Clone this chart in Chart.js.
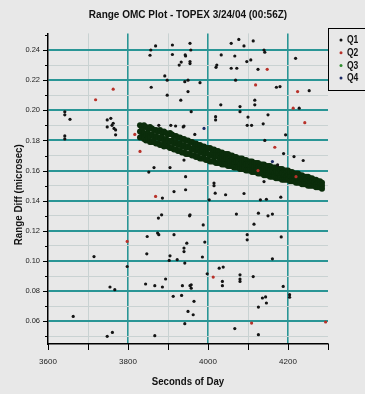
<!DOCTYPE html>
<html>
<head>
<meta charset="utf-8">
<script src="https://cdn.jsdelivr.net/npm/chart.js@4/dist/chart.umd.min.js"></script>
<style>
  html, body { margin: 0; padding: 0; background: #e8e8e8; }
  #wrap { width: 365px; height: 394px; }
</style>
</head>
<body>
<div id="wrap"><canvas id="omcChart" width="365" height="394"></canvas></div>
<script>
// --- Data (seconds of day, range diff in microsec) ---
const chartTitle = "Range OMC Plot - TOPEX 3/24/04 (00:56Z)";
const xTitle = "Seconds of Day";
const yTitle = "Range Diff (microsec)";
const xTickValues = [3600, 3700, 3800, 3900, 4000, 4100, 4200, 4300];
const yTickValues = [0.05, 0.06, 0.07, 0.08, 0.09, 0.10, 0.11, 0.12, 0.13, 0.14, 0.15,
                     0.16, 0.17, 0.18, 0.19, 0.20, 0.21, 0.22, 0.23, 0.24, 0.25];

// Q1 - scattered returns (black)
const q1Points = [
  [3642,0.199],[3642,0.197],[3655,0.194],[3642,0.183],[3642,0.181],
  [3748,0.1936],[3757,0.1947],[3748,0.189],[3763,0.1914],[3769,0.187],[3765,0.188],[3769,0.1837],[3760,0.190],
  [3852,0.159],[3865,0.162],[3905,0.162],
  [3857,0.240],[3869,0.2427],[3855,0.2365],[3911,0.2433],[3911,0.237],[3928,0.230],[3933,0.232],[3944,0.236],
  [3955,0.231],[3892,0.2228],[3898,0.220],[3858,0.2153],[3898,0.210],[3932,0.2067],[3942,0.219],[3950,0.220],
  [3950,0.2124],[3907,0.190],[3919,0.1896],[3940,0.1896],[3877,0.190],
  [3955,0.2444],[3943,0.2367],[3955,0.2323],[3980,0.2183],[3957,0.240],
  [4058,0.2444],[4077,0.247],[4090,0.2427],[4113,0.246],[4140,0.240],[4142,0.2385],[4033,0.2367],[4067,0.236],
  [4097,0.2323],[4107,0.2334],[4022,0.230],[4020,0.2285],[4058,0.2279],[4072,0.2279],[4125,0.2272],[4219,0.2345],
  [4069,0.220],[4171,0.2153],[4180,0.2157],[4253,0.213],[4117,0.2067],[4117,0.2036],[4032,0.2036],[4080,0.2025],
  [4080,0.1991],[4228,0.2014],[3958,0.1991],[4019,0.1958],[4019,0.1936],[4100,0.1955],[4150,0.197],[4138,0.191],
  [4098,0.190],[4109,0.190],[3938,0.189],[3967,0.184],[4142,0.180],[4194,0.1837],[4189,0.1713],
  [4174,0.1638],[4215,0.1693],[4238,0.1667],[3940,0.167],[3944,0.156],[4015,0.1517],[4140,0.1527],
  [3886,0.1418],[3915,0.1461],[3944,0.1473],[3876,0.1285],[3884,0.1307],[3955,0.1307],[3874,0.1186],[3877,0.1175],
  [3848,0.1163],[3915,0.1175],[3715,0.103],[3847,0.1048],[3905,0.1035],[3903,0.1004],[3923,0.1009],[3940,0.1086],
  [3940,0.1063],[3947,0.1119],[3942,0.0987],[3798,0.0964],[3894,0.0881],[3755,0.0828],[3767,0.0810],[3844,0.0848],
  [3867,0.0837],[3886,0.0828],[3936,0.0837],[3955,0.0837],[3913,0.0766],[3934,0.0772],[3663,0.0633],[3950,0.0666],
  [3942,0.0585],[3761,0.0527],[3748,0.0501],[3867,0.0505],
  [4015,0.150],[4018,0.145],[4003,0.1406],[4044,0.144],[4090,0.1448],[4131,0.1406],[4146,0.141],[4182,0.1424],
  [3954,0.130],[3988,0.124],[4071,0.1312],[4126,0.1318],[4150,0.130],[4161,0.1312],[4115,0.1245],[4098,0.1175],
  [4098,0.1141],[4183,0.116],[3992,0.1126],[3986,0.1027],[4161,0.1015],[4028,0.0953],[4038,0.096],[3998,0.0916],
  [4080,0.0909],[4080,0.0881],[4080,0.0865],[4113,0.0897],[4036,0.0865],[4036,0.0837],[3958,0.0843],[3958,0.082],
  [4188,0.0832],[4204,0.0777],[4204,0.076],[4136,0.0755],[4144,0.0762],[4146,0.0722],[4126,0.0695],[3965,0.0733],
  [3963,0.0644],[4067,0.0552],[4126,0.0512]
];

// Q2 - red
const q2Points = [
  [3719,0.207],[3763,0.214],[3817,0.184],[3830,0.1727],[4148,0.2272],[4119,0.2168],[4224,0.2124],[4213,0.2014],
  [4242,0.1918],[4167,0.1755],[3869,0.1429],[3798,0.113],[4013,0.0894],[4109,0.0589],[4294,0.0596],
  [4125,0.160],[4220,0.156]
];

// Q3 - the main pass band (x, upper, middle, lower)
const q3Band = [
  [3830,0.190,0.186,0.182],[3835,0.189,0.187,0.183],[3840,0.190,0.185,0.181],[3845,0.189,0.184,0.180],
  [3850,0.188,0.185,0.181],[3855,0.189,0.183,0.179],[3860,0.188,0.184,0.179],[3865,0.187,0.182,0.179],
  [3870,0.187,0.183,0.178],[3875,0.186,0.182,0.178],[3880,0.187,0.181,0.177],[3885,0.185,0.182,0.177],
  [3890,0.186,0.180,0.176],[3895,0.185,0.181,0.177],[3900,0.184,0.180,0.176],[3905,0.185,0.179,0.175],
  [3910,0.184,0.180,0.175],[3915,0.183,0.178,0.174],[3920,0.183,0.179,0.174],[3925,0.182,0.177,0.173],
  [3930,0.182,0.178,0.173],[3935,0.181,0.176,0.172],[3940,0.181,0.177,0.172],[3945,0.180,0.175,0.171],
  [3950,0.180,0.176,0.171],[3955,0.179,0.175,0.171],[3960,0.179,0.174,0.170],[3965,0.178,0.175,0.170],
  [3970,0.178,0.173,0.169],[3975,0.177,0.174,0.169],[3980,0.177,0.172,0.168],[3985,0.176,0.173,0.168],
  [3990,0.176,0.171,0.168],[3995,0.175,0.172,0.167],[4000,0.175,0.171,0.167],[4005,0.175,0.170,0.166],
  [4010,0.174,0.171,0.166],[4015,0.174,0.169,0.166],[4020,0.173,0.170,0.165],[4025,0.173,0.169,0.165],
  [4030,0.172,0.168,0.165],[4035,0.172,0.169,0.164],[4040,0.171,0.167,0.164],[4045,0.171,0.168,0.164],
  [4050,0.171,0.167,0.163],[4055,0.170,0.166,0.163],[4060,0.170,0.167,0.163],[4065,0.169,0.165,0.162],
  [4070,0.169,0.166,0.162],[4075,0.168,0.165,0.162],[4080,0.168,0.164,0.161],[4085,0.168,0.165,0.161],
  [4090,0.167,0.163,0.161],[4095,0.167,0.164,0.160],[4100,0.166,0.163,0.160],[4105,0.166,0.162,0.160],
  [4110,0.166,0.163,0.159],[4115,0.165,0.162,0.159],[4120,0.165,0.161,0.159],[4125,0.165,0.162,0.158],
  [4130,0.164,0.161,0.158],[4135,0.164,0.160,0.158],[4140,0.164,0.161,0.157],[4145,0.163,0.160,0.157],
  [4150,0.163,0.159,0.157],[4155,0.163,0.160,0.156],[4160,0.162,0.159,0.156],[4165,0.162,0.158,0.156],
  [4170,0.162,0.159,0.155],[4175,0.161,0.158,0.155],[4180,0.161,0.157,0.155],[4185,0.161,0.158,0.154],
  [4190,0.160,0.157,0.154],[4195,0.160,0.156,0.154],[4200,0.160,0.157,0.154],[4205,0.159,0.156,0.153],
  [4210,0.159,0.155,0.153],[4215,0.158,0.156,0.153],[4220,0.158,0.155,0.152],[4225,0.158,0.154,0.152],
  [4230,0.157,0.155,0.152],[4235,0.157,0.154,0.151],[4240,0.156,0.153,0.151],[4245,0.156,0.154,0.151],
  [4250,0.156,0.153,0.150],[4255,0.155,0.152,0.150],[4260,0.155,0.153,0.150],[4265,0.154,0.152,0.150],
  [4270,0.154,0.151,0.149],[4275,0.153,0.152,0.149],[4280,0.153,0.151,0.149],[4285,0.152,0.150,0.148]
];

// Q4 - dark blue
const q4Points = [[3990,0.188],[4161,0.166],[3975,0.170],[4140,0.160]];

// --- Helpers ---
const FONT = "'Liberation Sans', Arial, sans-serif";
const toXY = pts => pts.map(p => ({ x: p[0], y: p[1] }));
const bandXY = [];
q3Band.forEach(r => {
  bandXY.push({ x: r[0], y: r[1] }, { x: r[0], y: r[2] }, { x: r[0], y: r[3] });
});
const isEven = (v, step) => Math.round(v / step) % 2 === 0;

// condensed bold text (the original uses a narrow face)
function narrowText(c, text, x, y, size, squeeze, rot) {
  c.save();
  c.translate(x, y);
  if (rot) c.rotate(rot);
  c.scale(squeeze, 1);
  c.font = "bold " + size + "px " + FONT;
  c.fillStyle = "#111";
  c.textAlign = "center";
  c.textBaseline = "middle";
  c.fillText(text, 0, 0);
  c.restore();
}

// --- Plugin: background, titles, tick marks, legend box ---
const omcDecor = {
  id: "omcDecor",
  beforeDraw(chart) {
    const c = chart.ctx;
    c.save();
    c.fillStyle = "#e8e8e8";
    c.fillRect(0, 0, chart.width, chart.height);
    c.restore();
  },
  afterDraw(chart) {
    const c = chart.ctx;
    const xs = chart.scales.x, ys = chart.scales.y;
    const area = chart.chartArea;
    const midX = (area.left + area.right) / 2;

    narrowText(c, chartTitle, midX, 15, 11.5, 0.87, 0);
    narrowText(c, xTitle, midX, 382, 11.5, 0.84, 0);
    narrowText(c, yTitle, 19, (area.top + area.bottom) / 2 + 6, 11.5, 0.85, -Math.PI / 2);

    c.save();
    c.strokeStyle = "#000";
    c.lineWidth = 1;
    c.beginPath();
    yTickValues.forEach(v => {
      const py = Math.round(ys.getPixelForValue(v)) + 0.5;
      const len = isEven(v, 0.01) ? 5 : 3;
      c.moveTo(area.left - len, py);
      c.lineTo(area.left, py);
    });
    xTickValues.forEach(v => {
      const px = Math.round(xs.getPixelForValue(v)) + 0.5;
      c.moveTo(px, area.bottom);
      c.lineTo(px, area.bottom + 6);
    });
    c.stroke();

    // legend box
    c.strokeRect(328.5, 28.5, 40, 62);
    c.textBaseline = "middle";
    c.textAlign = "left";
    chart.data.datasets.forEach((ds, i) => {
      const ly = 40 + i * 12.7;
      c.fillStyle = ds.legendColor;
      c.beginPath();
      c.arc(341, ly, 1.5, 0, Math.PI * 2);
      c.fill();
      c.save();
      c.translate(347, ly + 0.5);
      c.scale(0.85, 1);
      c.font = "bold 10px " + FONT;
      c.fillStyle = "#111";
      c.fillText(ds.label, 0, 0);
      c.restore();
    });
    c.restore();
  }
};

// --- Chart ---
const ctx = document.getElementById("omcChart").getContext("2d");
const omcChart = new Chart(ctx, {
  type: "scatter",
  data: {
    datasets: [
      { label: "Q1", data: toXY(q1Points), backgroundColor: "#141414", legendColor: "#111", pointRadius: 1.6 },
      { label: "Q2", data: toXY(q2Points), backgroundColor: "#b8322a", legendColor: "#b8322a", pointRadius: 1.6 },
      { label: "Q3", data: bandXY, backgroundColor: "#0b2d0b", legendColor: "#2e8b2e", pointRadius: 3 },
      { label: "Q4", data: toXY(q4Points), backgroundColor: "#1c2a66", legendColor: "#1c2a66", pointRadius: 1.6 }
    ]
  },
  options: {
    responsive: false,
    animation: false,
    layout: { padding: { top: 33.4, right: 37 } },
    elements: { point: { borderWidth: 0, hoverRadius: 2 } },
    plugins: {
      legend: { display: false },
      tooltip: { enabled: false },
      title: { display: false }
    },
    scales: {
      x: {
        type: "linear",
        min: 3600,
        max: 4300,
        afterFit: s => { s.height = 50; },
        afterBuildTicks: s => { s.ticks = xTickValues.map(v => ({ value: v })); },
        border: { color: "#000", width: 1.5 },
        grid: {
          drawTicks: false,
          color: c => (c.tick.value === 3600 || c.tick.value === 4300) ? "rgba(0,0,0,0)"
                      : isEven(c.tick.value, 100) ? "#2a9595" : "#c9d2d2",
          lineWidth: c => isEven(c.tick.value, 100) ? 1.6 : 1
        },
        ticks: {
          autoSkip: false,
          maxRotation: 0,
          padding: 13,
          color: "#222",
          font: { family: FONT, size: 8 },
          callback: v => isEven(v, 100) ? String(v) : ""
        }
      },
      y: {
        min: 0.045,
        max: 0.251,
        afterFit: s => { s.width = 48; },
        afterBuildTicks: s => { s.ticks = yTickValues.map(v => ({ value: v })); },
        border: { color: "#000", width: 1.5 },
        grid: {
          drawTicks: false,
          color: c => c.tick.value >= 0.25 ? "rgba(0,0,0,0)"
                      : isEven(c.tick.value, 0.01) ? "#2a9595" : "#c9d2d2",
          lineWidth: c => isEven(c.tick.value, 0.01) ? 2 : 1
        },
        ticks: {
          autoSkip: false,
          padding: 8,
          color: "#222",
          font: { family: FONT, size: 7.5 },
          callback: v => isEven(v, 0.01) ? v.toFixed(2) : ""
        }
      }
    }
  },
  plugins: [omcDecor]
});
</script>
</body>
</html>
